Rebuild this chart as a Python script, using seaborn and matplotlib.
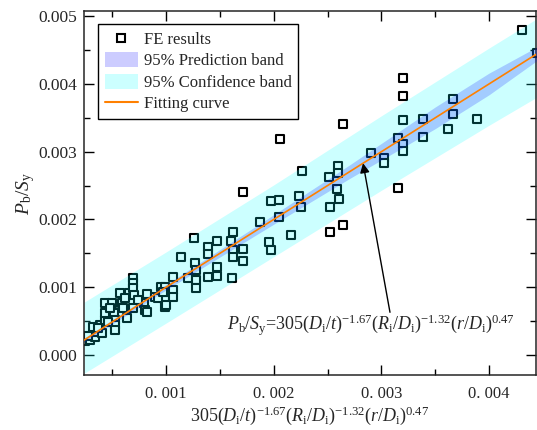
import numpy as np
import pandas as pd
import matplotlib
matplotlib.use("Agg")
import matplotlib.pyplot as plt
import seaborn as sns
from matplotlib.patches import Patch
from matplotlib.lines import Line2D
from matplotlib.ticker import FixedLocator, MultipleLocator, FormatStrFormatter

# FE results: predicted value (formula) vs. normalised buckling load
fe_x = [0.248, 0.294, 0.341, 0.359, 0.406, 0.387, 0.433, 0.433, 0.433, 0.498,
        0.517, 0.526, 0.526, 0.526, 0.573, 0.591, 0.656, 0.694, 0.694, 0.694,
        0.703, 0.796, 0.824, 0.805, 0.898, 0.954, 0.991, 0.991, 0.991, 0.991,
        1.065, 1.065, 1.065, 1.139, 1.204, 1.269, 1.279, 1.279, 1.279, 1.260,
        1.390, 1.390, 1.390, 1.474, 1.474, 1.474, 1.604, 1.622, 1.622, 1.622,
        1.715, 1.715, 1.613, 1.873, 1.957, 1.975, 1.975, 2.050, 2.050, 1.715,
        2.059, 2.161, 2.263, 2.235, 2.254, 2.514, 2.597, 2.597, 2.588, 2.607,
        2.523, 2.523, 2.644, 2.644, 2.904, 3.025, 3.025, 3.155, 3.201, 3.201,
        3.155, 3.201, 3.201, 3.201, 3.387, 3.387, 3.619, 3.666, 3.666, 3.888,
        4.306, 4.446,
        0.322, 0.276, 0.461, 0.480, 0.619, 0.740, 0.601, 0.638, 0.368, 0.694,
        0.824, 0.926, 0.972, 1.000]
fe_y = [0.206, 0.221, 0.265, 0.339, 0.324, 0.442, 0.516, 0.619, 0.767, 0.767,
        0.619, 0.516, 0.442, 0.369, 0.914, 0.767, 0.914, 1.136, 1.062, 0.988,
        0.885, 0.767, 0.900, 0.664, 0.855, 1.003, 1.003, 0.870, 0.811, 0.708,
        1.150, 0.959, 0.855, 1.445, 1.136, 1.357, 1.254, 1.106, 0.988, 1.726,
        1.593, 1.490, 1.150, 1.681, 1.298, 1.165, 1.681, 1.814, 1.549, 1.445,
        1.563, 1.386, 1.136, 1.962, 1.667, 1.549, 2.271, 2.286, 2.035, 2.404,
        3.186, 1.770, 2.714, 2.345, 2.183, 2.625, 2.788, 2.684, 2.448, 2.301,
        2.183, 1.814, 1.917, 3.407, 2.979, 2.906, 2.832, 3.201, 3.112, 3.009,
        2.463, 4.086, 3.820, 3.466, 3.481, 3.215, 3.333, 3.776, 3.555, 3.481,
        4.794, 4.454,
        0.413, 0.280, 0.487, 0.693, 0.841, 0.811, 0.693, 0.546, 0.398, 0.693,
        0.634, 0.841, 0.929, 0.737]

# fitting curve
fit_x = [0.24, 1.0, 2.0, 3.0, 4.0, 4.45]
fit_y = [0.22, 1.0, 2.0, 3.0, 4.0, 4.45]

# wide band edges
wide_x = [0.24, 1.0, 2.0, 3.0, 4.0, 4.45]
wide_hi = [0.78, 1.52, 2.51, 3.53, 4.53, 4.97]
wide_lo = [-0.27, 0.47, 1.45, 2.43, 3.39, 3.81]

# narrow band edges
narrow_x = [0.24, 1.0, 2.0, 2.7, 3.5, 4.0, 4.45]
narrow_hi = [0.25, 1.04, 2.07, 2.80, 3.66, 4.16, 4.55]
narrow_lo = [0.19, 0.96, 1.93, 2.60, 3.34, 3.84, 4.35]

SCALE = 1e-3
df = pd.DataFrame({"x": np.array(fe_x) * SCALE, "y": np.array(fe_y) * SCALE})
fit = pd.DataFrame({"x": np.array(fit_x) * SCALE, "y": np.array(fit_y) * SCALE})

sns.set_style("ticks")
plt.rcParams["font.family"] = ["Liberation Serif", "DejaVu Serif"]
plt.rcParams["mathtext.fontset"] = "custom"
plt.rcParams["mathtext.rm"] = "Liberation Serif"
plt.rcParams["mathtext.it"] = "Liberation Serif:italic"
plt.rcParams["axes.linewidth"] = 1.1

fig = plt.figure(figsize=(5.37, 4.30), dpi=100)
ax = fig.add_axes([0.1564, 0.128, 0.8417, 0.846])

sns.scatterplot(data=df, x="x", y="y", marker="s", s=36, color="white",
                edgecolor="black", linewidth=1.5, ax=ax, zorder=1, legend=False)

ax.fill_between(np.array(wide_x) * SCALE, np.array(wide_lo) * SCALE,
                np.array(wide_hi) * SCALE, color="cyan", alpha=0.2,
                linewidth=0, zorder=2)
ax.fill_between(np.array(narrow_x) * SCALE, np.array(narrow_lo) * SCALE,
                np.array(narrow_hi) * SCALE, color="blue", alpha=0.2,
                linewidth=0, zorder=3)

sns.lineplot(data=fit, x="x", y="y", color="#ff8000", linewidth=1.2, ax=ax,
             zorder=4)

ax.set_xlim(0.000238, 0.004436)
ax.set_ylim(-0.000295, 0.005074)

ax.xaxis.set_major_locator(FixedLocator([0.001, 0.002, 0.003, 0.004]))
ax.set_xticklabels(["0. 001", "0. 002", "0. 003", "0. 004"], fontsize=12)
ax.xaxis.set_minor_locator(MultipleLocator(0.0005))
ax.yaxis.set_major_locator(MultipleLocator(0.001))
ax.yaxis.set_minor_locator(MultipleLocator(0.0005))
ax.yaxis.set_major_formatter(FormatStrFormatter("%.3f"))
ax.tick_params(axis="y", labelsize=12.5, pad=5)
ax.tick_params(which="both", direction="in", top=True, right=True,
               width=1.0, color="black")
ax.tick_params(which="major", length=7)
ax.tick_params(which="minor", length=4)
ax.tick_params(axis="x", which="major", pad=8)

ax.set_xlabel(r"305$(D_{\rm i}/t)^{-1.67}(R_{\rm i}/D_{\rm i})^{-1.32}(r/D_{\rm i})^{0.47}$",
              fontsize=13, labelpad=2)
ax.set_ylabel(r"$P_{\rm b}/S_{\rm y}$", fontsize=14, labelpad=1)

ax.annotate("", xy=(0.00283, 0.00283), xytext=(0.00308, 0.00063),
            arrowprops=dict(arrowstyle="-|>", color="black", lw=1.0,
                            mutation_scale=14, shrinkA=0, shrinkB=0),
            zorder=5)
ax.text(0.00290, 0.00044,
        r"$P_{\rm b}/S_{\rm y}$=305$(D_{\rm i}/t)^{-1.67}(R_{\rm i}/D_{\rm i})^{-1.32}(r/D_{\rm i})^{0.47}$",
        fontsize=13, ha="center", va="center", zorder=6)

handles = [
    Line2D([], [], marker="s", linestyle="none", markersize=6,
           markerfacecolor="white", markeredgecolor="black", markeredgewidth=1.5),
    Patch(facecolor="blue", alpha=0.2, edgecolor="none"),
    Patch(facecolor="cyan", alpha=0.2, edgecolor="none"),
    Line2D([], [], color="#ff8000", linewidth=1.5),
]
labels = ["FE results", "95% Prediction band", "95% Confidence band", "Fitting curve"]
leg = ax.legend(handles, labels, loc="upper left", bbox_to_anchor=(0.031, 0.964),
                borderaxespad=0, fontsize=12, frameon=True, fancybox=False,
                edgecolor="black", framealpha=1, handlelength=2.0,
                handleheight=1.0, labelspacing=0.25, borderpad=0.4,
                handletextpad=0.35)
leg.get_frame().set_linewidth(1.0)

fig.savefig("out.png", dpi=100)
